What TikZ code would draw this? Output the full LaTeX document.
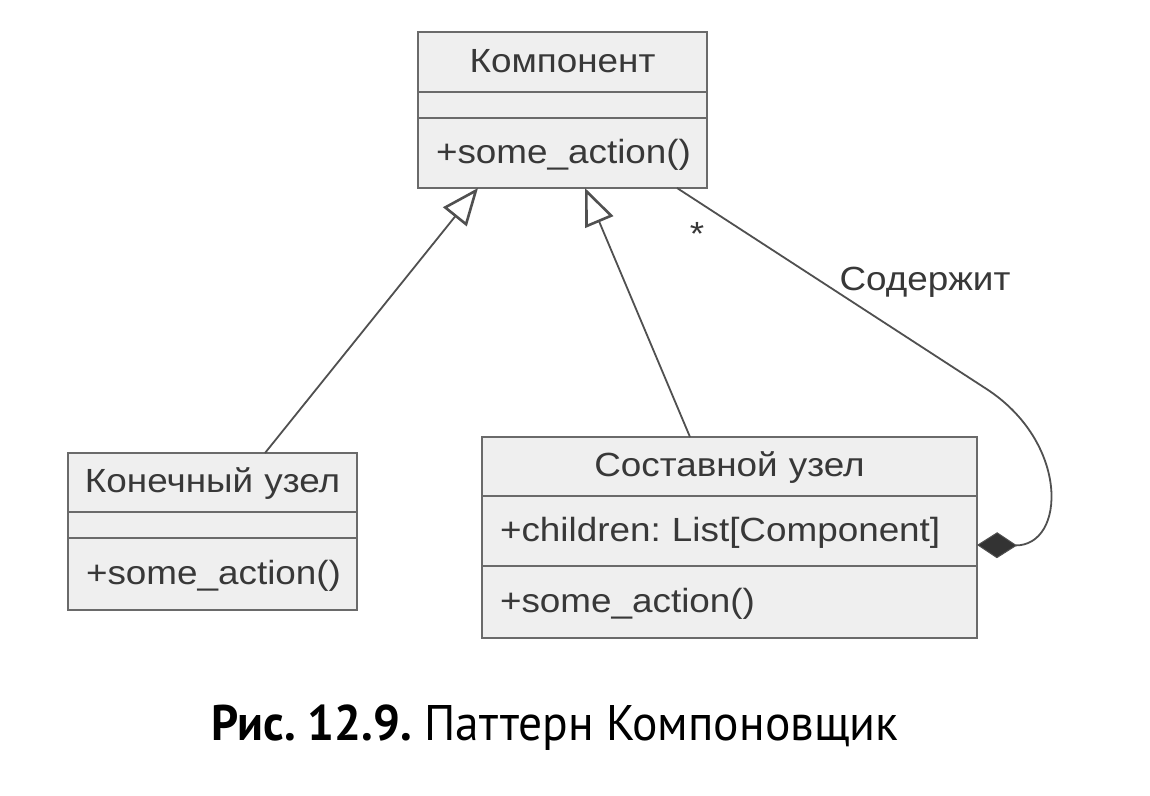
\documentclass[tikz,border=0pt]{standalone}
\usepackage{fontspec}
\setmainfont{Liberation Sans}
\newfontfamily\umlfont[FakeStretch=1.1]{Liberation Sans}
\newfontfamily\capfont[FakeStretch=0.95]{PT Sans}
\usetikzlibrary{arrows.meta}
\definecolor{boxline}{HTML}{6A6A6A}
\definecolor{boxfill}{HTML}{EFEFEF}
\definecolor{txt}{HTML}{383838}
\definecolor{wire}{HTML}{505050}
\definecolor{dia}{HTML}{333333}
\tikzset{
  part/.style={draw=boxline, line width=2.4pt, fill=boxfill, minimum width=#1,
    inner sep=0pt, outer sep=0pt, anchor=north west, text=txt,
    font=\umlfont\fontsize{33.5}{40}\selectfont},
  ttl/.style={part=#1, text width=#1, align=center, text height=26pt, text depth=6pt},
  mem/.style={part=#1, text width=#1-36pt, inner xsep=18pt, align=left, text height=26pt, text depth=6pt},
  gen/.style={draw=wire, line width=1.8pt, -{Triangle[length=37pt, width=30pt, fill=white, line width=2.6pt]}},
  comp/.style={draw=wire, line width=1.8pt, -{Diamond[length=40pt, width=26pt, fill=dia, line width=1pt]}},
  lbl/.style={text=txt, font=\umlfont\fontsize{33.5}{40}\selectfont, inner sep=0pt},
}
\frenchspacing
\begin{document}
\frenchspacing
\begin{tikzpicture}[x=1pt,y=-1pt]
\useasboundingbox (0,0) rectangle (1150,795);
\fill[white] (0,0) rectangle (1150,795);
% Component
\node[ttl=289pt, minimum height=60pt] (compT) at (418,32) {Компонент};
\node[part=289pt, minimum height=26pt] (compA) at (418,92) {};
\node[mem=289pt, minimum height=70pt] (compM) at (418,118) {+some\_action()};
% Leaf
\node[ttl=289pt, minimum height=59pt] (leafT) at (68,453) {Конечный узел};
\node[part=289pt, minimum height=26pt] (leafA) at (68,512) {};
\node[mem=289pt, minimum height=72pt] (leafM) at (68,538) {+some\_action()};
% Composite
\node[ttl=495pt, minimum height=59pt] (cmpT) at (482,437) {Составной узел};
\node[mem=495pt, minimum height=70pt] (cmpA) at (482,496) {+children: List[Component]};
\node[mem=495pt, minimum height=72pt] (cmpM) at (482,566) {+some\_action()};
% connectors
\draw[gen] ([xshift=197pt]leafT.north west) -- ([xshift=60pt]compM.south west);
\draw[gen] ([xshift=208pt]cmpT.north west) -- ([xshift=167pt]compM.south west);
\coordinate (bend) at (985,388);
\draw[comp] ([xshift=259pt]compM.south west) -- (bend)
  .. controls (1070,442) and (1066,546) .. ([yshift=-14pt]cmpA.east);
\node[lbl] (mult) at (697,234) {*};
\node[lbl] (role) at (925,282) {Содержит};
% caption
\node[anchor=base, inner sep=0pt, font=\capfont\fontsize{50}{58}\selectfont] (cap) at (555,740)
  {\textbf{Рис. 12.9.} Паттерн Компоновщик};
\end{tikzpicture}
\end{document}
